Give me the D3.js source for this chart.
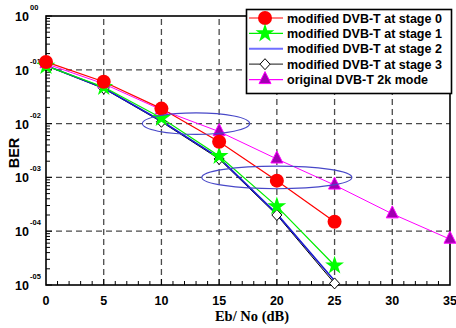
<!DOCTYPE html>
<html><head><meta charset="utf-8">
<script src="https://cdn.jsdelivr.net/npm/d3@7/dist/d3.min.js"></script>
<style>body{margin:0;background:#fff}svg{display:block}</style>
</head><body><div id="c"></div>
<script>
const ebno = [0, 5, 10, 15, 20, 25];
const ebnoOrig = [0, 5, 10, 15, 20, 25, 30, 35];
const stage0 = [0.14, 0.06, 0.019, 0.0046, 0.00087, 0.00015];
const stage1 = [0.118, 0.048, 0.0127, 0.0025, 0.00029, 0.000023];
const stage2 = [0.12, 0.046, 0.0112, 0.0023, 0.00021, 0.000012];
const stage3 = [0.12, 0.045, 0.0108, 0.0022, 0.0002, 0.0000107];
const original = [0.13, 0.055, 0.018, 0.0071, 0.0022, 0.00072, 0.00021, 0.000071];
const xTicks = [0, 5, 10, 15, 20, 25, 30, 35];
const yTicks = [1, 1e-1, 1e-2, 1e-3, 1e-4, 1e-5];
const yTickExp = ["00", "-01", "-02", "-03", "-04", "-05"];
const legendLabels = ["modified DVB-T at stage 0", "modified DVB-T at stage 1", "modified DVB-T at stage 2", "modified DVB-T at stage 3", "original DVB-T 2k mode"];
// annotation ellipses: center (dB, BER), half width in dB, half height in decades
const ellipseCx = [13, 20];
const ellipseCy = [0.01, 0.001];
const ellipseRx = [4.65, 6.5];
const ellipseRyDec = [0.2, 0.21];

const W = 456, H = 328;
const svg = d3.select("#c").append("svg").attr("width", W).attr("height", H);
const L = 46, R = 450, T = 16, B = 285;
const x = d3.scaleLinear().domain([0, 35]).range([L, R]);
const y = d3.scaleLog().domain([1e-5, 1]).range([B, T]);

// grid
const grid = svg.append("g").attr("stroke", "#4a4a4a").attr("stroke-width", 1.3).attr("stroke-dasharray", "6,4");
xTicks.filter(d => d > 0 && d < 35).forEach(d => grid.append("line").attr("x1", x(d)).attr("x2", x(d)).attr("y1", B).attr("y2", T));
yTicks.filter(d => d < 1 && d > 1e-5).forEach(d => grid.append("line").attr("x1", L).attr("x2", R).attr("y1", y(d)).attr("y2", y(d)));

// minor ticks
const tk = svg.append("g").attr("stroke", "#000").attr("stroke-width", 1);
for (let k = -5; k < 0; k++) {
  for (let m = 2; m <= 9; m++) {
    const v = m * Math.pow(10, k);
    tk.append("line").attr("x1", L).attr("x2", L + 4).attr("y1", y(v)).attr("y2", y(v));
  }
}
yTicks.forEach(d => tk.append("line").attr("x1", L).attr("x2", L + 6).attr("y1", y(d)).attr("y2", y(d)));
for (let i = 1; i < 35; i++) {
  tk.append("line").attr("x1", x(i)).attr("x2", x(i)).attr("y1", B).attr("y2", B - (i % 5 === 0 ? 6 : 4));
}

// frame
svg.append("rect").attr("x", L).attr("y", T).attr("width", R - L).attr("height", B - T)
  .attr("fill", "none").attr("stroke", "#000").attr("stroke-width", 1.6);

// tick labels
const xl = svg.append("g").attr("font-family", "Liberation Sans, Arial, sans-serif").attr("font-weight", "bold").attr("font-size", 12.5);
xTicks.forEach(d => xl.append("text").attr("x", x(d)).attr("y", 305).attr("text-anchor", "middle").text(d));
const yl = svg.append("g").attr("font-family", "Liberation Sans, Arial, sans-serif").attr("font-weight", "bold");
yTicks.forEach((d, i) => {
  const t = yl.append("text").attr("x", 29).attr("y", y(d) + 5).attr("text-anchor", "end").attr("font-size", 12.5);
  t.text("10");
  yl.append("text").attr("x", 30).attr("y", y(d) - 6).attr("font-size", 7.5).text(yTickExp[i]);
});

// axis titles
svg.append("text").attr("x", 252).attr("y", 321).attr("text-anchor", "middle")
  .attr("font-family", "Liberation Serif, Times New Roman, serif").attr("font-weight", "bold").attr("font-size", 14.5).text("Eb/ No (dB)");
svg.append("text").attr("transform", "translate(19,153) rotate(-90)").attr("text-anchor", "middle")
  .attr("font-family", "Liberation Sans, Arial, sans-serif").attr("font-weight", "bold").attr("font-size", 14.5).text("BER");

// series
const line = d3.line().x(d => x(d[0])).y(d => y(d[1]));
const series = [
  {xs: ebno, ys: stage3, color: "#000000", marker: "diamond", w: 1},
  {xs: ebno, ys: stage2, color: "#1a1ad0", marker: null, w: 1.6},
  {xs: ebnoOrig, ys: original, color: "#ff00ff", marker: "triangle", w: 1},
  {xs: ebno, ys: stage1, color: "#00ee00", marker: "star", w: 1.2},
  {xs: ebno, ys: stage0, color: "#ff0000", marker: "circle", w: 1.2},
];
function drawMarker(g, type, cx, cy) {
  if (type === "circle") {
    g.append("circle").attr("cx", cx).attr("cy", cy).attr("r", 7).attr("fill", "#ff0000");
  } else if (type === "star") {
    g.append("path").attr("d", d3.symbol(d3.symbolStar, 110)()).attr("transform", `translate(${cx},${cy})`).attr("fill", "#00ff00");
  } else if (type === "diamond") {
    g.append("path").attr("d", "M0,-5.5L5,0L0,5.5L-5,0Z").attr("transform", `translate(${cx},${cy})`)
      .attr("fill", "#fff").attr("stroke", "#000").attr("stroke-width", 1);
  } else if (type === "triangle") {
    g.append("path").attr("d", "M0,-8L6,4L-6,4Z").attr("transform", `translate(${cx},${cy})`)
      .attr("fill", "#a000b0").attr("stroke", "#ff00ff").attr("stroke-width", 1);
  }
}
series.forEach(s => {
  const pts = s.xs.map((v, i) => [v, s.ys[i]]);
  svg.append("path").attr("d", line(pts)).attr("fill", "none").attr("stroke", s.color).attr("stroke-width", s.w);
});
series.forEach(s => {
  if (!s.marker) return;
  const g = svg.append("g");
  s.xs.forEach((v, i) => drawMarker(g, s.marker, x(v), y(s.ys[i])));
});

// ellipses
ellipseCx.forEach((c, i) => {
  const cy = y(ellipseCy[i]);
  const ry = Math.abs(y(ellipseCy[i]) - y(ellipseCy[i] * Math.pow(10, ellipseRyDec[i])));
  svg.append("ellipse").attr("cx", x(c)).attr("cy", cy).attr("rx", x(c + ellipseRx[i]) - x(c)).attr("ry", ry)
    .attr("fill", "none").attr("stroke", "#4848c8").attr("stroke-width", 1.1);
});

// legend
const lg = svg.append("g");
lg.append("rect").attr("x", 246.5).attr("y", 9.5).attr("width", 205).attr("height", 84)
  .attr("fill", "#fff").attr("stroke", "#000").attr("stroke-width", 1.6);
const legColors = ["#ff0000", "#00ee00", "#7070ff", "#444444", "#ff00ff"];
const legMarkers = ["circle", "star", null, "diamond", "triangle"];
legendLabels.forEach((lab, i) => {
  const cy = 18 + i * 15.4;
  lg.append("line").attr("x1", 249).attr("x2", 283).attr("y1", cy).attr("y2", cy)
    .attr("stroke", legColors[i]).attr("stroke-width", i === 2 ? 2 : 1.2);
  if (legMarkers[i]) drawMarker(lg, legMarkers[i], 265, cy);
  lg.append("text").attr("x", 287).attr("y", cy + 4.5).attr("font-family", "Liberation Sans, Arial, sans-serif")
    .attr("font-weight", "bold").attr("font-size", 12.5).text(lab);
});
</script></body></html>
